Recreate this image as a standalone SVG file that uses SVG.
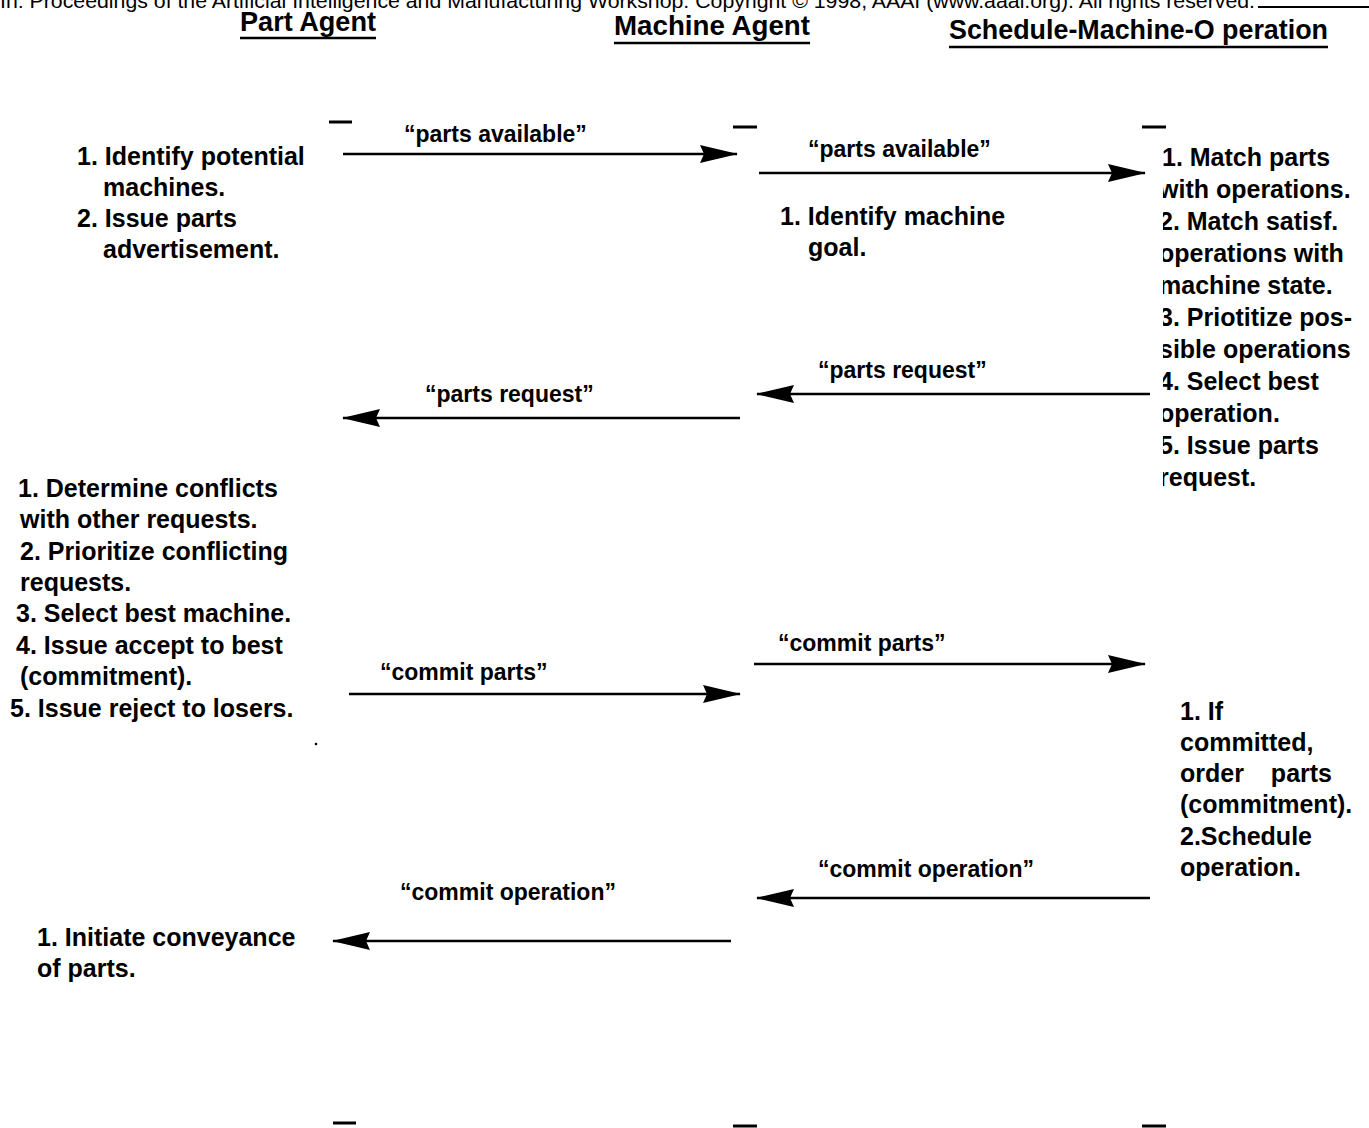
<svg xmlns="http://www.w3.org/2000/svg" width="1369" height="1128" viewBox="0 0 1369 1128">
<style>
text{font-family:"Liberation Sans",Arial,sans-serif;fill:#000}
.t{font-size:25px;font-weight:bold}
.h{font-size:28px;font-weight:bold}
.lbl{font-size:23px;font-weight:bold}
.ln{stroke:#000;stroke-width:2.5;fill:none}
.tick{stroke:#000;stroke-width:3}
</style>
<defs>
<marker id="ah" viewBox="0 0 38 18" refX="37" refY="9" markerWidth="38" markerHeight="18" markerUnits="userSpaceOnUse" orient="auto">
<path d="M0,0 L38,9 L0,18 L4,9 Z" fill="#000"/>
</marker>
<clipPath id="rc"><rect x="1163" y="0" width="206" height="1128"/></clipPath>
</defs>
<rect width="1369" height="1128" fill="#fff"/>
<g id="header">
<text x="0" y="8" font-size="21" textLength="1255" lengthAdjust="spacingAndGlyphs">In: Proceedings of the Artificial Intelligence and Manufacturing Workshop. Copyright © 1998, AAAI (www.aaai.org). All rights reserved.</text>
<line x1="1258" y1="7" x2="1369" y2="7" stroke="#000" stroke-width="2"/>
</g>
<g id="part-agent">
<text class="h" x="240" y="31" textLength="136" lengthAdjust="spacingAndGlyphs">Part Agent</text>
<line x1="240" y1="38" x2="376" y2="38" stroke="#000" stroke-width="2.5"/>
<line class="tick" x1="329" y1="122" x2="352" y2="122"/>
<line class="tick" x1="333" y1="1123" x2="356" y2="1123"/>
</g>
<g id="machine-agent">
<text class="h" x="614" y="35" textLength="196" lengthAdjust="spacingAndGlyphs">Machine  Agent</text>
<line x1="614" y1="43" x2="810" y2="43" stroke="#000" stroke-width="2.5"/>
<line class="tick" x1="733" y1="127" x2="757" y2="127"/>
<line class="tick" x1="733" y1="1126" x2="757" y2="1126"/>
</g>
<g id="schedule-machine-operation">
<text class="h" x="949" y="39" textLength="379" lengthAdjust="spacingAndGlyphs">Schedule-Machine-O peration</text>
<line x1="949" y1="47" x2="1328" y2="47" stroke="#000" stroke-width="2.5"/>
<line class="tick" x1="1142" y1="127" x2="1166" y2="127"/>
<line class="tick" x1="1142" y1="1126" x2="1166" y2="1126"/>
</g>
<g id="part-notes-1">
<text class="t" x="77" y="165">1. Identify potential</text>
<text class="t" x="103" y="196">machines.</text>
<text class="t" x="77" y="227">2. Issue parts</text>
<text class="t" x="103" y="258">advertisement.</text>
</g>
<g id="machine-notes-1">
<text class="t" x="780" y="225">1. Identify machine</text>
<text class="t" x="808" y="256">goal.</text>
</g>
<g id="schedule-notes-1" clip-path="url(#rc)">
<text class="t" x="1162" y="166">1. Match parts</text>
<text class="t" x="1159" y="198">with operations.</text>
<text class="t" x="1159" y="230">2. Match satisf.</text>
<text class="t" x="1159" y="262">operations with</text>
<text class="t" x="1159" y="294">machine state.</text>
<text class="t" x="1159" y="326">3. Priotitize pos-</text>
<text class="t" x="1159" y="358">sible operations</text>
<text class="t" x="1159" y="390">4. Select best</text>
<text class="t" x="1159" y="422">operation.</text>
<text class="t" x="1159" y="454">5. Issue parts</text>
<text class="t" x="1159" y="486">request.</text>
</g>
<g id="part-notes-2">
<text class="t" x="18" y="497">1. Determine conflicts</text>
<text class="t" x="20" y="528">with other requests.</text>
<text class="t" x="20" y="560">2. Prioritize conflicting</text>
<text class="t" x="20" y="591">requests.</text>
<text class="t" x="16" y="622">3. Select best machine.</text>
<text class="t" x="16" y="654">4. Issue accept to best</text>
<text class="t" x="20" y="685">(commitment).</text>
<text class="t" x="10" y="717">5. Issue reject to losers.</text>
<circle cx="316" cy="744" r="1.3" fill="#000"/>
</g>
<g id="schedule-notes-2">
<text class="t" x="1180" y="720">1. If</text>
<text class="t" x="1180" y="751">committed,</text>
<text class="t" x="1180" y="782">order</text>
<text class="t" x="1332" y="782" text-anchor="end">parts</text>
<text class="t" x="1180" y="813">(commitment).</text>
<text class="t" x="1180" y="845">2.Schedule</text>
<text class="t" x="1180" y="876">operation.</text>
</g>
<g id="part-notes-3">
<text class="t" x="37" y="946">1. Initiate conveyance</text>
<text class="t" x="37" y="977">of parts.</text>
</g>
<g id="connectors">
<line class="ln" x1="343" y1="154" x2="737" y2="154" marker-end="url(#ah)"/>
<text class="lbl" x="404" y="142">“parts available”</text>
<line class="ln" x1="759" y1="173" x2="1145" y2="173" marker-end="url(#ah)"/>
<text class="lbl" x="808" y="157">“parts available”</text>
<line class="ln" x1="1150" y1="394" x2="757" y2="394" marker-end="url(#ah)"/>
<text class="lbl" x="818" y="378">“parts request”</text>
<line class="ln" x1="740" y1="418" x2="343" y2="418" marker-end="url(#ah)"/>
<text class="lbl" x="425" y="402">“parts request”</text>
<line class="ln" x1="349" y1="694" x2="740" y2="694" marker-end="url(#ah)"/>
<text class="lbl" x="380" y="680">“commit parts”</text>
<line class="ln" x1="754" y1="664" x2="1145" y2="664" marker-end="url(#ah)"/>
<text class="lbl" x="778" y="651">“commit parts”</text>
<line class="ln" x1="1150" y1="898" x2="757" y2="898" marker-end="url(#ah)"/>
<text class="lbl" x="818" y="877">“commit operation”</text>
<line class="ln" x1="731" y1="941" x2="333" y2="941" marker-end="url(#ah)"/>
<text class="lbl" x="400" y="900">“commit operation”</text>
</g>
</svg>
